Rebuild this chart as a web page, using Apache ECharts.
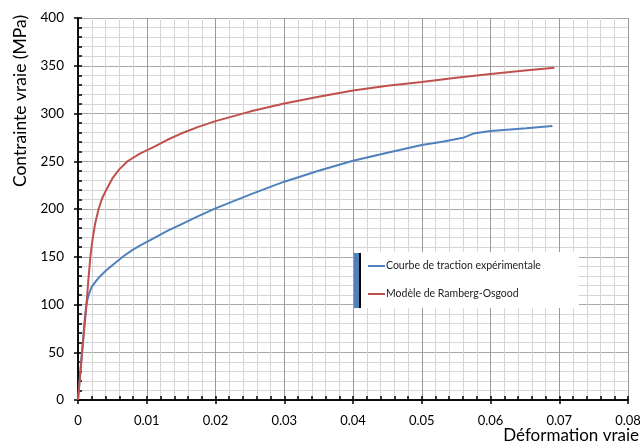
<!DOCTYPE html>
<html><head><meta charset="utf-8">
<script src="https://cdn.jsdelivr.net/npm/echarts@6/dist/echarts.min.js"></script>
<style>html,body{margin:0;padding:0;background:#fff}#c{width:640px;height:448px}</style>
</head><body><div id="c"></div>
<script>
const seriesNames = ['Courbe de traction expérimentale', 'Modèle de Ramberg-Osgood'];
const expStrain = [0, 0.0005, 0.001, 0.0012, 0.0014, 0.0016, 0.0018, 0.002, 0.0025, 0.003, 0.004, 0.005, 0.0065, 0.008, 0.0092, 0.0105, 0.013, 0.015, 0.0175, 0.02, 0.025, 0.03, 0.035, 0.04, 0.045, 0.05, 0.053, 0.056, 0.0575, 0.06, 0.0652, 0.069];
const expStress = [0, 43, 86, 99, 106, 111, 115, 118.5, 123.5, 128, 135, 141, 150, 157.5, 162.5, 167.5, 177, 184, 192.5, 200.7, 215, 228.6, 240, 250.6, 259, 267, 270.5, 274.5, 279, 281.7, 284.5, 287];
const roStrain = [0, 0.0006, 0.0012, 0.0015, 0.0018, 0.002, 0.0022, 0.0025, 0.003, 0.0035, 0.0041, 0.005, 0.006, 0.0072, 0.009, 0.0112, 0.013, 0.015, 0.0175, 0.02, 0.025, 0.03, 0.035, 0.04, 0.045, 0.05, 0.055, 0.06, 0.065, 0.0693];
const roStress = [0, 50, 97, 125, 150, 162, 172, 185, 200, 211, 220, 232, 241.5, 250, 258, 265.5, 272.5, 279, 286, 292, 302, 310.5, 317.5, 324, 329, 333, 337.5, 341.4, 345, 348];
const xTitle = 'Déformation vraie';
const yTitle = 'Contrainte vraie (MPa)';

const zip = (a, b) => a.map((v, i) => [v, b[i]]);
const FONT = 'Lato';
const chart = echarts.init(document.getElementById('c'), null, {renderer: 'canvas'});
const baseX = {
  type: 'value', min: 0, max: 0.08, interval: 0.01, position: 'bottom',
  axisLine: {onZero: false, lineStyle: {color: '#000', width: 1.5}}
};
const baseY = {
  type: 'value', min: 0, max: 400, interval: 50, position: 'left',
  axisLine: {onZero: false, lineStyle: {color: '#000', width: 1.5}}
};
chart.setOption({
  animation: false,
  backgroundColor: '#fff',
  grid: {left: 78, right: 12, top: 18, bottom: 48, containLabel: false, outerBoundsMode: 'none'},
  xAxis: [
    Object.assign({}, baseX, {
      axisTick: {show: true, inside: false, length: 4, lineStyle: {color: '#000', width: 1.5}},
      axisLabel: {fontFamily: FONT, fontSize: 13, color: '#000', margin: 14, formatter: v => String(+v.toFixed(2))},
      splitLine: {show: true, lineStyle: {color: '#9a9a9a', width: 1}},
      minorTick: {show: false, splitNumber: 5},
      minorSplitLine: {show: true, lineStyle: {color: '#d6d6d6', width: 1}}
    }),
    Object.assign({}, baseX, {
      axisTick: {show: true, inside: true, length: 4, lineStyle: {color: '#000', width: 1.5}},
      axisLabel: {show: false}, splitLine: {show: false},
      minorTick: {show: true, splitNumber: 5, length: 4, lineStyle: {color: '#000', width: 1.5}}
    })
  ],
  yAxis: [
    Object.assign({}, baseY, {
      name: yTitle, nameLocation: 'middle', nameRotate: 90, nameGap: 44,
      nameTextStyle: {fontFamily: FONT, fontSize: 17.5, color: '#000', padding: [0, 0, 0, 216]},
      axisTick: {show: true, inside: false, length: 4, lineStyle: {color: '#000', width: 1.5}},
      axisLabel: {fontFamily: FONT, fontSize: 13.5, color: '#000', margin: 14},
      splitLine: {show: true, lineStyle: {color: '#a8a8a8', width: 1}},
      minorTick: {show: false, splitNumber: 5},
      minorSplitLine: {show: true, lineStyle: {color: '#d6d6d6', width: 1}}
    }),
    Object.assign({}, baseY, {
      axisTick: {show: true, inside: true, length: 4, lineStyle: {color: '#000', width: 1.5}},
      axisLabel: {show: false}, splitLine: {show: false},
      minorTick: {show: true, splitNumber: 5, length: 4, lineStyle: {color: '#000', width: 1.5}}
    })
  ],
  graphic: [
    {type: 'rect', z: 3, shape: {x: 361, y: 252, width: 218, height: 56}, style: {fill: '#fff'}},
    {type: 'rect', z: 3, shape: {x: 354, y: 253, width: 5, height: 55}, style: {fill: '#4F81BD'}},
    {type: 'rect', z: 3, shape: {x: 359, y: 253, width: 2, height: 55}, style: {fill: '#000'}},
    {type: 'text', z: 5, right: 1, top: 427, style: {text: xTitle, font: '17px Lato', fill: '#000'}}
  ],
  legend: {
    z: 5, orient: 'vertical', left: 368, top: 259, padding: 0,
    itemWidth: 17, itemHeight: 2, itemGap: 14, icon: 'rect',
    textStyle: {fontFamily: FONT, fontSize: 10.5, color: '#222', lineHeight: 14, padding: [0, 0, 0, -4]},
    data: seriesNames
  },
  series: [
    {name: seriesNames[0], type: 'line', xAxisIndex: 0, yAxisIndex: 0, data: zip(expStrain, expStress),
     showSymbol: false, symbol: 'none', smooth: false, z: 3,
     lineStyle: {color: '#4F81BD', width: 2}, itemStyle: {color: '#4F81BD'}},
    {name: seriesNames[1], type: 'line', xAxisIndex: 0, yAxisIndex: 0, data: zip(roStrain, roStress),
     showSymbol: false, symbol: 'none', smooth: false, z: 3,
     lineStyle: {color: '#C0504D', width: 2}, itemStyle: {color: '#C0504D'}}
  ]
});
</script></body></html>
